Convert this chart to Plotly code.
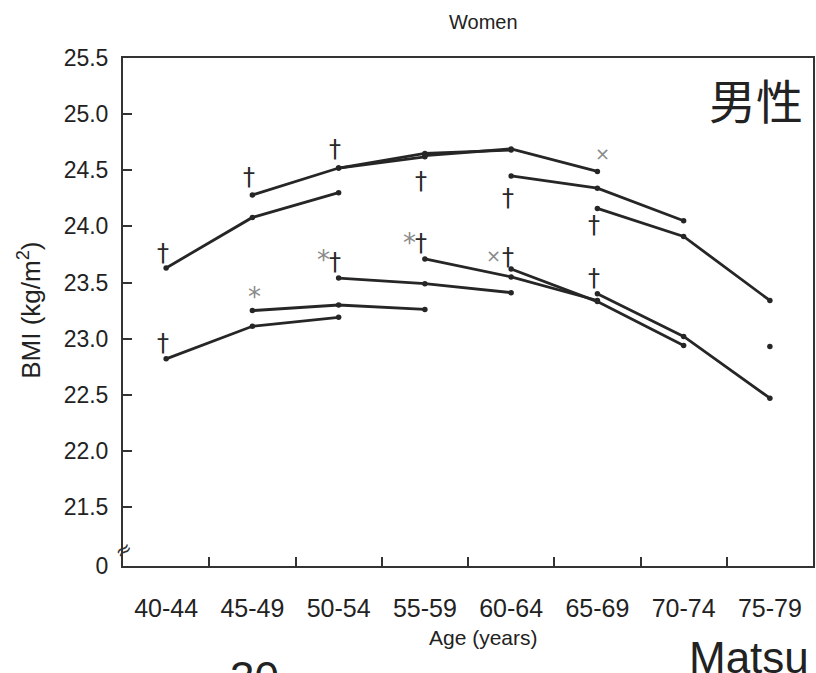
import plotly.graph_objects as go

# ---------------- data ----------------
ages = ["40-44", "45-49", "50-54", "55-59", "60-64", "65-69", "70-74", "75-79"]

# upper group of cohort lines (start age-group index, BMI values)
upper_c1 = [23.63, 24.08, 24.30]
upper_c2 = [24.28, 24.52, 24.62]
upper_c3 = [24.52, 24.65, 24.68]
upper_c4 = [24.63, 24.69, 24.49]
upper_c5 = [24.45, 24.34, 24.05]
upper_c6 = [24.16, 23.91, 23.34]

# lower group of cohort lines
lower_c1 = [22.82, 23.11, 23.19]
lower_c2 = [23.25, 23.30, 23.26]
lower_c3 = [23.54, 23.49, 23.41]
lower_c4 = [23.71, 23.55, 23.34]
lower_c5 = [23.62, 23.33, 22.94]
lower_c6 = [23.40, 23.02, 22.47]
lower_c7 = [22.93]

cohort_starts = [0, 1, 2, 3, 4, 5, 0, 1, 2, 3, 4, 5, 7]
cohort_values = [upper_c1, upper_c2, upper_c3, upper_c4, upper_c5, upper_c6,
                 lower_c1, lower_c2, lower_c3, lower_c4, lower_c5, lower_c6, lower_c7]

# significance marks: age-group index and BMI level of the glyph
dagger_idx = [0, 1, 2, 3, 4, 5, 0, 2, 3, 4, 5]
dagger_y = [23.76, 24.44, 24.69, 24.40, 24.25, 24.01, 22.96, 23.68, 23.85, 23.73, 23.54]
star_idx = [1, 2, 3]
star_y = [23.37, 23.70, 23.85]
kome_idx = [4, 5]
kome_y = [23.74, 24.65]

y_ticks = [21.5, 22.0, 22.5, 23.0, 23.5, 24.0, 24.5, 25.0, 25.5]
y_bottom = 20.975  # axis break shown as "0"

# ---------------- figure ----------------
ink = "#262626"
fig = go.Figure()
for start, vals in zip(cohort_starts, cohort_values):
    fig.add_trace(go.Scatter(
        x=ages[start:start + len(vals)], y=vals,
        mode="lines+markers",
        line=dict(color=ink, width=2.8),
        marker=dict(size=5.5, color=ink),
        showlegend=False, hoverinfo="skip"))

C = dict(xanchor="center", yanchor="middle", showarrow=False)
ann = []
for i, yv in zip(dagger_idx, dagger_y):
    ann.append(dict(x=i - 0.04, y=yv, xref="x", yref="y", text="†",
                    font=dict(family="DejaVu Sans", size=24, color="#2a2a2a"), **C))
star_dx = {1: 0.03, 2: -0.17, 3: -0.18}
for i, yv in zip(star_idx, star_y):
    ann.append(dict(x=i + star_dx[i], y=yv, xref="x", yref="y", text="*",
                    font=dict(family="DejaVu Sans", size=26, color="#8a8a8a"), **C))
kome_dx = {4: -0.21, 5: 0.06}
for i, yv in zip(kome_idx, kome_y):
    ann.append(dict(x=i + kome_dx[i], y=yv, xref="x", yref="y", text="×",
                    font=dict(family="DejaVu Sans", size=18, color="#8a8a8a"), **C))

# titles and overlays
ann += [
    dict(x=0.523, y=1.071, xref="paper", yref="paper", text="Women",
         font=dict(family="Liberation Sans", size=20, color="#222"), **C),
    dict(x=0.523, y=-0.14, xref="paper", yref="paper", text="Age (years)",
         font=dict(family="Liberation Sans", size=21, color="#222"), **C),
    dict(x=-0.135, y=0.504, xref="paper", yref="paper", text="BMI (kg/m<sup>2</sup>)",
         textangle=-90,
         font=dict(family="Liberation Sans", size=26, color="#222"), **C),
    dict(x=0.918, y=0.921, xref="paper", yref="paper", text="男性",
         font=dict(family="Noto Sans CJK JP", size=47, color="#222"), **C),
    dict(x=0.818, y=-0.128, xref="paper", yref="paper", text="Matsu", showarrow=False,
         xanchor="left", yanchor="top",
         font=dict(family="Liberation Sans", size=44, color="#222")),
    dict(x=0.19, y=-0.168, xref="paper", yref="paper", text="30", showarrow=False,
         xanchor="center", yanchor="top",
         font=dict(family="Liberation Sans", size=44, color="#222")),
    dict(x=0, y=21.12, xref="paper", yref="y", text="≈", textangle=-35,
         font=dict(family="DejaVu Sans", size=20, color="#333"), **C),
]

fig.update_layout(
    width=816, height=673, autosize=False,
    margin=dict(l=123, r=1, t=58, b=107),
    paper_bgcolor="white", plot_bgcolor="white",
    annotations=ann,
    xaxis=dict(type="category", categoryorder="array", categoryarray=ages,
               range=[-0.5, 7.5], showline=True, linecolor="#333", linewidth=2,
               mirror=True, ticks="inside", ticklen=9, tickwidth=1.5, tickcolor="#333",
               tickson="boundaries", showgrid=False, zeroline=False,
               tickfont=dict(family="Liberation Sans", size=25, color="#222"),
               ticklabelstandoff=19),
    yaxis=dict(range=[y_bottom, 25.5], tickvals=[y_bottom] + y_ticks,
               ticktext=["0"] + [f"{v:.1f}" for v in y_ticks],
               showline=True, linecolor="#333", linewidth=2, mirror=True,
               ticks="inside", ticklen=9, tickwidth=1.5, tickcolor="#333",
               showgrid=False, zeroline=False,
               tickfont=dict(family="Liberation Sans", size=23, color="#222"),
               ticklabelstandoff=8),
)

fig.write_html("out.html")
